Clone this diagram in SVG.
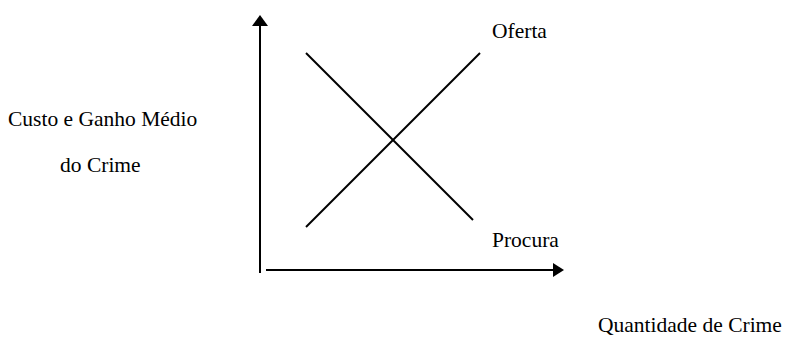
<svg xmlns="http://www.w3.org/2000/svg" width="795" height="338" viewBox="0 0 795 338">
<style>
.ln{stroke:#000;stroke-width:2;fill:none}
.ah{fill:#000;stroke:none}
</style>
<rect width="795" height="338" fill="#fff"/>
<g id="connectors">
<g id="y-axis">
<line class="ln" x1="260" y1="273" x2="260" y2="24"/>
<polygon class="ah" points="260,15 268,26 252,26"/>
</g>
<g id="x-axis">
<line class="ln" x1="266" y1="270" x2="554" y2="270"/>
<polygon class="ah" points="564,270 553,263 553,277"/>
</g>
<g id="demand-line">
<line class="ln" x1="306" y1="53" x2="473" y2="220"/>
</g>
<g id="supply-line">
<line class="ln" x1="306" y1="227" x2="480" y2="53"/>
</g>
</g>
<g id="label-oferta"><text style="font-family:'Liberation Serif';font-size:21.5px" x="492" y="38">Oferta</text></g>
<g id="label-procura"><text style="font-family:'Liberation Serif';font-size:21.5px" x="492" y="247">Procura</text></g>
<g id="label-y"><text style="font-family:'Liberation Serif';font-size:21.5px" x="8" y="126">Custo e Ganho Médio</text>
<text style="font-family:'Liberation Serif';font-size:21.5px" x="60" y="172">do Crime</text></g>
<g id="label-x"><text style="font-family:'Liberation Serif';font-size:21.5px" x="598" y="332">Quantidade de Crime</text></g>
</svg>
